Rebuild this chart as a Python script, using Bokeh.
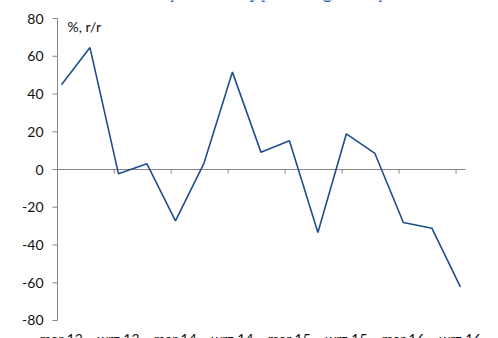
import math
from bokeh.plotting import figure
from bokeh.models import Range1d
from bokeh.core.properties import value
from bokeh.embed import file_html
from bokeh.resources import INLINE

# quarterly year-on-year change, %
quarters = ["mar 13", "cze 13", "wrz 13", "gru 13", "mar 14", "cze 14", "wrz 14",
            "gru 14", "mar 15", "cze 15", "wrz 15", "gru 15", "mar 16", "cze 16", "wrz 16"]
yoy = [44.9, 64.6, -2.3, 3.0, -27.2, 3.3, 51.6, 9.2, 15.2, -33.4, 18.9, 8.5,
       -28.1, -31.1, -62.2]
y_ticks = [-80, -60, -40, -20, 0, 20, 40, 60, 80]
y_tick_labels = [str(t) for t in y_ticks]
title_text = "Wydatki majątkowe gmin i powiatów"
unit_text = "%, r/r"

FONT = "Lato"
TEXT_COLOR = "#111111"
AXIS_GREY = "#868686"
LINE_BLUE = "#1f4e8c"
TITLE_BLUE = "#1f5aa0"

W, H = 498, 338
x = list(range(len(quarters)))

# plot area spans the whole canvas; axes are drawn inside it
X0, DX = -2.141, 28.49       # data x at the left edge, pixels per quarter
YC = 89.54                   # half height of the value range shown
p = figure(width=W, height=H, output_backend="svg", toolbar_location=None,
           x_range=Range1d(X0, X0 + W / DX), y_range=Range1d(-YC, YC),
           min_border=0)
p.outline_line_color = None
p.grid.visible = False
p.axis.visible = False
p.background_fill_color = "white"
p.border_fill_color = "white"

axis_x = -0.14
lo, hi = y_ticks[0], y_ticks[-1]

# value axis
p.segment(x0=[axis_x], y0=[lo], x1=[axis_x], y1=[hi], line_color=AXIS_GREY, line_width=1)
p.ray(x=[axis_x] * len(y_ticks), y=y_ticks, length=5, length_units="screen",
      angle=math.pi, line_color=AXIS_GREY, line_width=1)
p.text(x=[axis_x] * len(y_ticks), y=y_ticks, text=y_tick_labels, x_offset=-14,
       text_align="right", text_baseline="middle", text_font=value(FONT),
       text_font_size="14px", text_color=TEXT_COLOR)

# category axis along zero
x_end = X0 + W / DX - 33 / DX
p.segment(x0=[axis_x], y0=[0], x1=[x_end], y1=[0], line_color=AXIS_GREY, line_width=1)
tick_x = [i - 0.15 for i in x[2::2]]
p.ray(x=tick_x, y=[0] * len(tick_x), length=4, length_units="screen",
      angle=-math.pi / 2, line_color=AXIS_GREY, line_width=1)
p.text(x=x[::2], y=[lo] * len(x[::2]), text=quarters[::2], y_offset=10,
       text_align="center", text_baseline="top", text_font=value(FONT),
       text_font_size="14px", text_color=TEXT_COLOR)

# series
p.line(x, yoy, line_color=LINE_BLUE, line_width=1.6)

# unit note and title
p.text(x=[axis_x], y=[hi], text=[unit_text], x_offset=10, y_offset=8,
       text_align="left", text_baseline="alphabetic", text_font=value(FONT),
       text_font_size="14px", text_color=TEXT_COLOR)
p.text(x=[X0 + 305 / DX], y=[YC], text=[title_text], y_offset=-9, text_align="center",
       text_baseline="alphabetic", text_font=value(FONT), text_font_size="19px",
       text_font_style="bold", text_color=TITLE_BLUE)

open("out.html", "w").write(file_html(p, INLINE))
